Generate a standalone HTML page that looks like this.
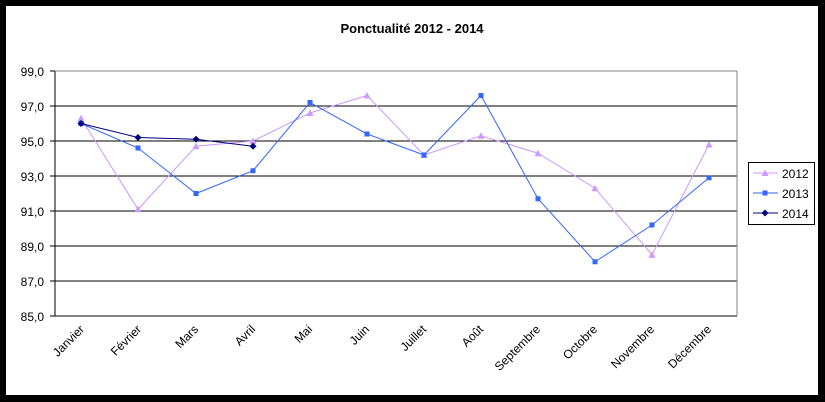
<!DOCTYPE html>
<html><head><meta charset="utf-8"><style>
html,body{margin:0;padding:0;background:#fff}
svg{display:block;font-family:"Liberation Sans",Arial,sans-serif}
</style></head><body>
<svg width="825" height="402" viewBox="0 0 825 402" xmlns="http://www.w3.org/2000/svg">
<defs>
<polygon id="tri" points="0,-3.5 3.5,3 -3.5,3" fill="#cc99ff"/>
<rect id="sq" x="-2.5" y="-2.5" width="5" height="5" fill="#3366ff"/>
<polygon id="dia" points="0,-3.5 3.5,0 0,3.5 -3.5,0" fill="#000080"/>
</defs>
<rect x="0" y="0" width="825" height="402" fill="#000"/>
<rect x="6" y="6" width="812" height="389" fill="#fff"/>
<text x="412" y="33" text-anchor="middle" font-size="13" font-weight="bold">Ponctualité 2012 - 2014</text>
<g stroke="#000" stroke-width="1">
<line x1="55" y1="106" x2="737" y2="106"/>
<line x1="55" y1="141" x2="737" y2="141"/>
<line x1="55" y1="176" x2="737" y2="176"/>
<line x1="55" y1="211" x2="737" y2="211"/>
<line x1="55" y1="246" x2="737" y2="246"/>
<line x1="55" y1="281" x2="737" y2="281"/>
<line x1="55" y1="316" x2="737" y2="316"/>
<line x1="55" y1="71" x2="55" y2="316"/>
</g>
<line x1="55" y1="71" x2="737" y2="71" stroke="#808080"/>
<line x1="737" y1="71" x2="737" y2="316" stroke="#808080"/>
<g stroke="#000">
<line x1="50" y1="71" x2="55" y2="71"/><line x1="50" y1="106" x2="55" y2="106"/><line x1="50" y1="141" x2="55" y2="141"/><line x1="50" y1="176" x2="55" y2="176"/><line x1="50" y1="211" x2="55" y2="211"/><line x1="50" y1="246" x2="55" y2="246"/><line x1="50" y1="281" x2="55" y2="281"/><line x1="50" y1="316" x2="55" y2="316"/>
</g>
<g font-size="12" text-anchor="end">
<text x="44" y="76">99,0</text><text x="44" y="111">97,0</text><text x="44" y="146">95,0</text><text x="44" y="181">93,0</text><text x="44" y="216">91,0</text><text x="44" y="251">89,0</text><text x="44" y="286">87,0</text><text x="44" y="321">85,0</text>
</g>
<g font-size="12" text-anchor="end">
<text transform="translate(85,330) rotate(-45)">Janvier</text>
<text transform="translate(142,330) rotate(-45)">Février</text>
<text transform="translate(199,330) rotate(-45)">Mars</text>
<text transform="translate(256,330) rotate(-45)">Avril</text>
<text transform="translate(313,330) rotate(-45)">Mai</text>
<text transform="translate(370,330) rotate(-45)">Juin</text>
<text transform="translate(427,330) rotate(-45)">Juillet</text>
<text transform="translate(484,330) rotate(-45)">Août</text>
<text transform="translate(541,330) rotate(-45)">Septembre</text>
<text transform="translate(598,330) rotate(-45)">Octobre</text>
<text transform="translate(655,330) rotate(-45)">Novembre</text>
<text transform="translate(712,330) rotate(-45)">Décembre</text>
</g>
<!-- 2012 -->
<polyline fill="none" stroke="#cc99ff" stroke-width="1" points="81,118.25 138,209.25 196,146.25 253,141 310,113 367,95.5 424,155 481,135.75 538,153.25 595,188.25 652,254.75 709,144.5"/>
<use href="#tri" x="81" y="118.25"/><use href="#tri" x="138" y="209.25"/><use href="#tri" x="196" y="146.25"/><use href="#tri" x="253" y="141"/><use href="#tri" x="310" y="113"/><use href="#tri" x="367" y="95.5"/><use href="#tri" x="424" y="155"/><use href="#tri" x="481" y="135.75"/><use href="#tri" x="538" y="153.25"/><use href="#tri" x="595" y="188.25"/><use href="#tri" x="652" y="254.75"/><use href="#tri" x="709" y="144.5"/>
<!-- 2013 -->
<polyline fill="none" stroke="#3366ff" stroke-width="1" points="81,123.5 138,148 196,193.5 253,170.75 310,102.5 367,134 424,155 481,95.5 538,198.75 595,261.75 652,225 709,177.75"/>
<use href="#sq" x="81" y="123.5"/><use href="#sq" x="138" y="148"/><use href="#sq" x="196" y="193.5"/><use href="#sq" x="253" y="170.75"/><use href="#sq" x="310" y="102.5"/><use href="#sq" x="367" y="134"/><use href="#sq" x="424" y="155"/><use href="#sq" x="481" y="95.5"/><use href="#sq" x="538" y="198.75"/><use href="#sq" x="595" y="261.75"/><use href="#sq" x="652" y="225"/><use href="#sq" x="709" y="177.75"/>
<!-- 2014 -->
<polyline fill="none" stroke="#000080" stroke-width="1" points="81,123.5 138,137.5 196,139.25 253,146.25"/>
<use href="#dia" x="81" y="123.5"/><use href="#dia" x="138" y="137.5"/><use href="#dia" x="196" y="139.25"/><use href="#dia" x="253" y="146.25"/>
<!-- legend -->
<rect x="748.5" y="162.5" width="66" height="62" fill="#fff" stroke="#000"/>
<line x1="753" y1="173" x2="778" y2="173" stroke="#cc99ff"/><use href="#tri" x="765" y="173"/>
<line x1="753" y1="193" x2="778" y2="193" stroke="#3366ff"/><use href="#sq" x="765" y="193"/>
<line x1="753" y1="213" x2="778" y2="213" stroke="#000080"/><use href="#dia" x="765" y="213"/>
<g font-size="12"><text x="782" y="178">2012</text><text x="782" y="198">2013</text><text x="782" y="218">2014</text></g>
</svg>
</body></html>
